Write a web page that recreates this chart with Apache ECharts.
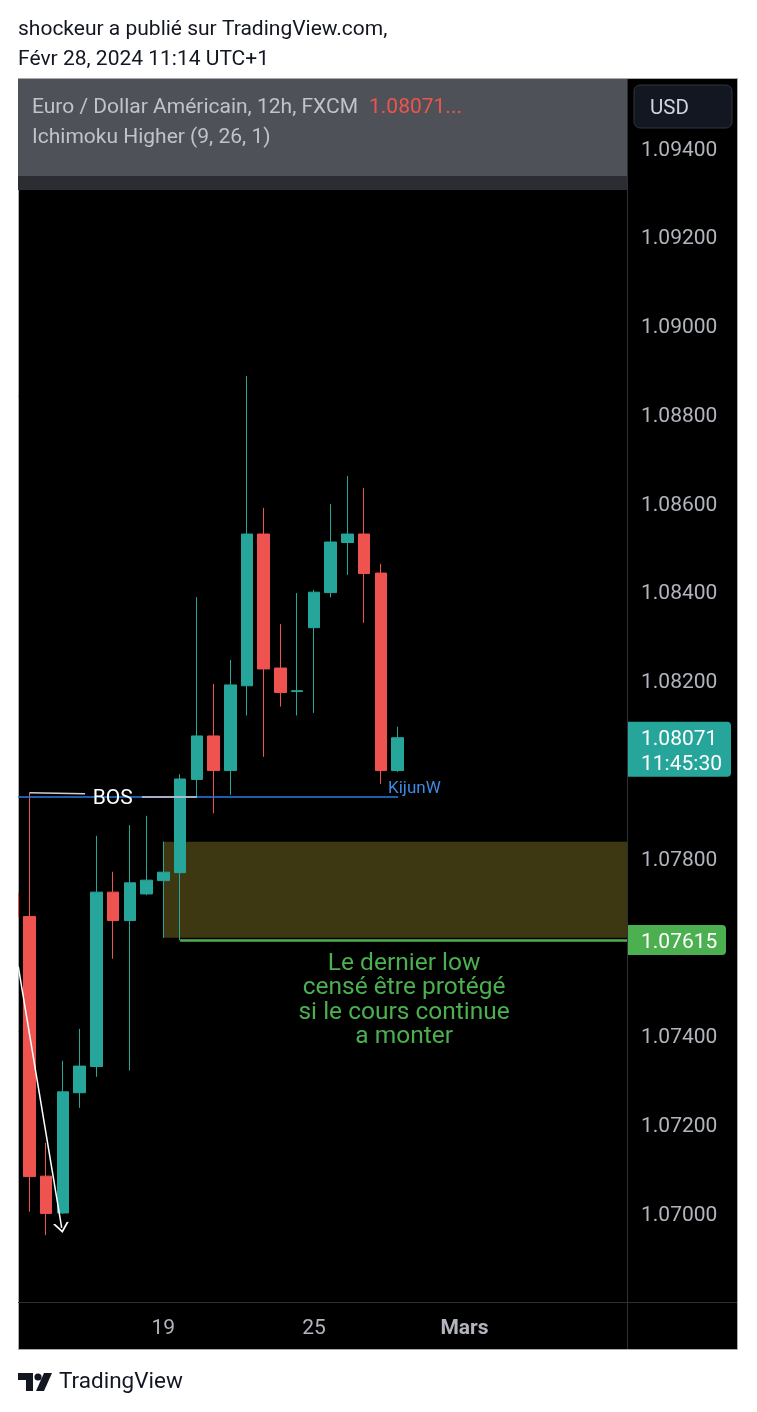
<!DOCTYPE html>
<html>
<head>
<meta charset="utf-8">
<script src="https://cdn.jsdelivr.net/npm/echarts@6/dist/echarts.min.js"></script>
<style>html,body{margin:0;padding:0;background:#fff}#c{width:757px;height:1412px}</style>
</head>
<body>
<div id="c"></div>
<script>
// ---- data (12h candles, EUR/USD FXCM) ----
const slotIndex = [0,1,2,3,4,5,6,7,8,9,10,11,12,13,14,15,16,17,18,19,20,21,22,23];
const opens  = [1.07721,1.07668,1.07083,1.07000,1.07271,1.07330,1.07723,1.07659,1.07719,1.07749,1.07767,1.07977,1.08075,1.07997,1.08188,1.08530,1.08228,1.08175,1.08319,1.08398,1.08511,1.08530,1.08442,1.07997];
const closes = [1.07667,1.07082,1.06999,1.07273,1.07331,1.07723,1.07659,1.07744,1.07750,1.07768,1.07978,1.08075,1.07997,1.08190,1.08530,1.08226,1.08173,1.08177,1.08399,1.08512,1.08530,1.08441,1.07997,1.08071];
const lows   = [1.07640,1.07003,1.06950,1.06998,1.07237,1.07307,1.07573,1.07321,1.07716,1.07620,1.07615,1.07938,1.07901,1.07942,1.08121,1.08028,1.08141,1.08121,1.08127,1.08387,1.08438,1.08330,1.07967,1.07994];
const highs  = [1.07750,1.07947,1.07158,1.07343,1.07415,1.07850,1.07769,1.07874,1.07895,1.07837,1.07989,1.08388,1.08192,1.08246,1.08886,1.08589,1.08327,1.08397,1.08404,1.08598,1.08661,1.08634,1.08463,1.08096];
const yTickValues = [1.094,1.092,1.090,1.088,1.086,1.084,1.082,1.078,1.074,1.072,1.070];
const xTickValues = [9,18,27];
const xTickLabels = ['19','25','Mars'];
const kijunLevel = 1.079384;
const lastLowLevel = 1.07615;
const zoneLow = 1.076204, zoneHigh = 1.078367;
const lastPrice = 1.08071;
const bosLevel = 1.07947;

const X_MIN = 0.313, X_MAX = 36.71, Y_MIN = 1.067994, Y_MAX = 1.095577;
const FONT = 'Roboto, "Noto Sans", sans-serif';

const chart = echarts.init(document.getElementById('c'), null, {renderer:'canvas', width:757, height:1412});
const candleData = slotIndex.map((x,i)=>[x, opens[i], closes[i], lows[i], highs[i]]);

const option = {
  backgroundColor:'#ffffff',
  animation:false,
  grid:{left:18, top:78, width:609, height:1224, containLabel:false},
  xAxis:{type:'value', min:X_MIN, max:X_MAX,
    axisLine:{show:false}, axisTick:{show:false}, splitLine:{show:false},
    axisLabel:{customValues:xTickValues, margin:16,
      formatter:(v)=>{const k=xTickValues.indexOf(Math.round(v)); const t=xTickLabels[k]; return t==='Mars'?'{b|'+t+'}':'{n|'+t+'}';},
      rich:{n:{color:'#b2b5be',fontSize:21,fontFamily:FONT}, b:{color:'#b2b5be',fontSize:21,fontWeight:'bold',fontFamily:FONT}}}},
  yAxis:{type:'value', position:'right', min:Y_MIN, max:Y_MAX, scale:true,
    axisLine:{show:false}, axisTick:{show:false}, splitLine:{show:false},
    axisLabel:{customValues:yTickValues, formatter:v=>v.toFixed(5), color:'#b2b5be', fontSize:21, fontFamily:FONT, margin:14, align:'left', verticalAlign:'top', lineHeight:5}},
  series:[
    {type:'candlestick', name:'EURUSD', data:candleData, barWidth:12, z:2, clip:true,
      itemStyle:{color:'#26a69a', color0:'#ef5350', borderColor:'#26a69a', borderColor0:'#ef5350', borderWidth:1}},
    {type:'line', name:'zone', data:[], z:4, silent:true,
      markArea:{silent:true, itemStyle:{color:'rgba(242,222,70,0.25)'},
        data:[[{coord:[9, zoneHigh]},{coord:[X_MAX, zoneLow]}]]},
      markLine:{silent:true, symbol:['none','none'], label:{show:false},
        lineStyle:{color:'#4caf50', width:2.5, type:'solid'},
        data:[[{coord:[10, lastLowLevel]},{coord:[X_MAX, lastLowLevel]}]]},
      markPoint:{silent:true, symbol:'rect', symbolSize:1, itemStyle:{color:'rgba(0,0,0,0)'},
        data:[{coord:[23.39, 1.074789], label:{show:true, position:'inside', color:'#4caf50', fontSize:24.5, fontFamily:FONT, lineHeight:24.6, align:'center',
          formatter:'Le dernier low\ncensé être protégé\nsi le cours continue\na monter'}}]}},
    {type:'line', name:'kijun', data:[], z:5, silent:true,
      markLine:{silent:true, symbol:['none','none'], label:{show:false},
        data:[
          [{coord:[X_MIN, kijunLevel], lineStyle:{color:'#2a7be4', width:1.5, type:'solid'}},{coord:[23.03, kijunLevel]}],
          [{coord:[1, bosLevel], lineStyle:{color:'#d0d0d0', width:1.5, type:'solid'}},{coord:[4.32, bosLevel-0.00002]}],
          [{coord:[7.72, 1.07939], lineStyle:{color:'#d0d0d0', width:1.5, type:'solid'}},{coord:[11.0, 1.07938]}]
        ]},
      markPoint:{silent:true, symbol:'rect', symbolSize:1, itemStyle:{color:'rgba(0,0,0,0)'},
        data:[
          {coord:[22.43, 1.079555], label:{show:true, position:'inside', align:'left', color:'#3d8ae6', fontSize:17, fontFamily:FONT, formatter:'KijunW'}},
          {coord:[5.97, 1.07933], label:{show:true, position:'inside', align:'center', color:'#ffffff', fontSize:21, fontFamily:FONT, formatter:'BOS'}}
        ]}},
    {type:'line', name:'arrow', data:[], z:5, silent:true,
      markLine:{silent:true, symbol:['none','path://M0,10 L5,0 L10,10 L8.6,10 L5,2.6 L1.4,10 Z'], symbolSize:[16,10], label:{show:false},
        lineStyle:{color:'#ffffff', width:1.5, type:'solid'},
        data:[[{coord:[0.33, 1.07555]},{coord:[2.925, 1.069662]}]]}}
  ]
};
chart.setOption(option);

const yPx = p => chart.convertToPixel({yAxisIndex:0}, p);
const yLast = yPx(lastPrice), yLow = yPx(lastLowLevel);

chart.setOption({graphic:[
  // frame background
  {type:'rect', z:-10, shape:{x:18, y:78, width:720, height:1272}, style:{fill:'#000000'}},
  {type:'rect', z:-5, shape:{x:18.5, y:78.5, width:719, height:1271}, style:{fill:'none', stroke:'#a9abb0', lineWidth:1}},
  // white cover left of frame (clips partially visible candle)
  {type:'rect', z:90, shape:{x:0, y:70, width:18, height:1290}, style:{fill:'#ffffff'}},
  // header overlay
  {type:'rect', z:100, shape:{x:18, y:78, width:609, height:98}, style:{fill:'#4e5157'}},
  {type:'rect', z:100, shape:{x:18, y:176, width:609, height:14}, style:{fill:'#2b2d32'}},
  {type:'line', z:100, shape:{x1:18, y1:78.5, x2:738, y2:78.5}, style:{stroke:'#a9abb0', lineWidth:1}},
  {type:'text', z:101, x:32, y:108, style:{text:'Euro / Dollar Américain, 12h, FXCM', fill:'#c0c3c9', font:'21px '+FONT, textVerticalAlign:'middle'}},
  {type:'text', z:101, x:369, y:108, style:{text:'1.08071...', fill:'#ef5350', font:'21px '+FONT, textVerticalAlign:'middle'}},
  {type:'text', z:101, x:32, y:138, style:{text:'Ichimoku Higher (9, 26, 1)', fill:'#c0c3c9', font:'21px '+FONT, textVerticalAlign:'middle'}},
  // USD box
  {type:'rect', z:101, shape:{x:634, y:85, width:98, height:43, r:6}, style:{fill:'#131722', stroke:'#30343e', lineWidth:1}},
  {type:'text', z:102, x:650, y:109, style:{text:'USD', fill:'#d1d4dc', font:'20.5px '+FONT, textVerticalAlign:'middle'}},
  // separators
  {type:'line', z:50, shape:{x1:627.5, y1:78, x2:627.5, y2:1350}, style:{stroke:'#2e3038', lineWidth:1}},
  {type:'line', z:50, shape:{x1:18, y1:1302.5, x2:738, y2:1302.5}, style:{stroke:'#2e3038', lineWidth:1}},
  {type:'line', z:95, shape:{x1:737.5, y1:78, x2:737.5, y2:1350}, style:{stroke:'#a9abb0', lineWidth:1}},
  {type:'line', z:95, shape:{x1:18, y1:1349.5, x2:738, y2:1349.5}, style:{stroke:'#a9abb0', lineWidth:1}},
  // current price label
  {type:'rect', z:110, shape:{x:628, y:yLast-16, width:103, height:55, r:[0,4,4,0]}, style:{fill:'#26a69a'}},
  {type:'text', z:111, x:641, y:yLast+2, style:{text:'1.08071', fill:'#ffffff', font:'21px '+FONT, textVerticalAlign:'middle'}},
  {type:'text', z:111, x:641, y:yLast+27, style:{text:'11:45:30', fill:'#ffffff', font:'21px '+FONT, textVerticalAlign:'middle'}},
  // last low label
  {type:'rect', z:110, shape:{x:628, y:yLow-15, width:98, height:30, r:[0,4,4,0]}, style:{fill:'#4caf50'}},
  {type:'text', z:111, x:641, y:yLow+2.5, style:{text:'1.07615', fill:'#ffffff', font:'21px '+FONT, textVerticalAlign:'middle'}},
  // page texts
  {type:'text', x:18, y:29.5, style:{text:'shockeur a publié sur TradingView.com,', fill:'#131722', font:'21px '+FONT, textVerticalAlign:'middle'}},
  {type:'text', x:18, y:59.5, style:{text:'Févr 28, 2024 11:14 UTC+1', fill:'#131722', font:'21px '+FONT, textVerticalAlign:'middle'}},
  // TradingView logo
  {type:'polygon', shape:{points:[[18,1373],[33,1373],[33,1391],[26,1391],[26,1380],[18,1380]]}, style:{fill:'#131722'}},
  {type:'circle', shape:{cx:38, cy:1377, r:3.6}, style:{fill:'#131722'}},
  {type:'polygon', shape:{points:[[44,1373],[52,1373],[44,1391],[36,1391]]}, style:{fill:'#131722'}},
  {type:'text', x:59, y:1382.5, style:{text:'TradingView', fill:'#131722', font:'22.5px '+FONT, textVerticalAlign:'middle'}}
]});
</script>
</body>
</html>
